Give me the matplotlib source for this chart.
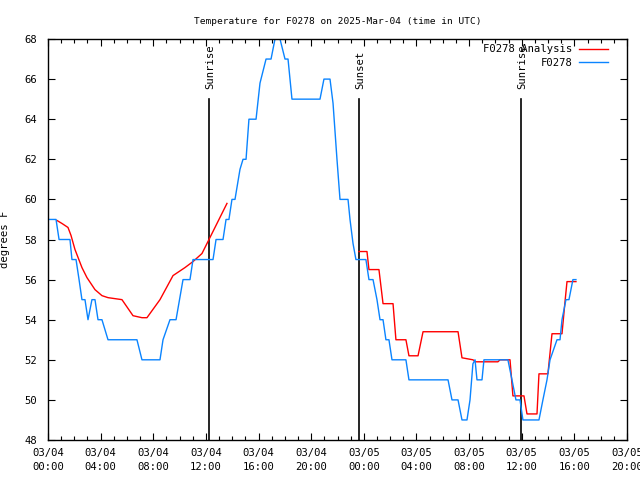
import numpy as np
import matplotlib
matplotlib.use("Agg")
import matplotlib.pyplot as plt
from matplotlib.ticker import MultipleLocator

plt.rcParams['font.family'] = ['DejaVu Sans Mono']
plt.rcParams['font.size'] = 7.6

# observations (hours since 03/04 00:00 UTC, degrees F)
obs_hours = [0.00, 0.61, 0.84, 1.67, 1.82, 2.13, 2.36, 2.58, 2.81, 3.04, 3.34, 3.57,
             3.80, 4.10, 4.56, 6.76, 7.14, 8.51, 8.74, 9.27, 9.73, 10.26, 10.79, 11.02,
             12.54, 12.77, 13.30, 13.53, 13.75, 13.98, 14.21, 14.59, 14.82, 15.05, 15.27,
             15.81, 16.11, 16.57, 16.95, 17.25, 17.63, 18.01, 18.24, 18.54, 20.67, 20.97,
             21.43, 21.66, 21.96, 22.19, 22.80, 22.95, 23.18, 23.40, 24.16, 24.39, 24.70,
             25.00, 25.23, 25.46, 25.68, 25.91, 26.14, 27.20, 27.43, 30.40, 30.70, 31.16,
             31.46, 31.84, 32.07, 32.29, 32.45, 32.60, 32.98, 33.13, 34.95, 35.26, 35.56,
             35.87, 36.09, 37.31, 37.61, 37.92, 38.15, 38.68, 38.91, 39.06, 39.36, 39.59,
             39.89, 40.12]
obs_temp = [59, 59, 58, 58, 57, 57, 56, 55, 55, 54, 55, 55,
            54, 54, 53, 53, 52, 52, 53, 54, 54, 56, 56, 57,
            57, 58, 58, 59, 59, 60, 60, 61.5, 62, 62, 64,
            64, 65.8, 67, 67, 68, 68, 67, 67, 65, 65, 66,
            66, 64.8, 62, 60, 60, 59, 57.8, 57, 57, 56, 56,
            55, 54, 54, 53, 53, 52, 52, 51, 51, 50, 50,
            49, 49, 50, 51.8, 52, 51, 51, 52, 52, 51, 50,
            50, 49, 49, 50, 51, 52, 53, 53, 54, 55, 55,
            56, 56]

# analysis (gap between the two runs)
ana_hours = [0.68, 1.06, 1.52, 1.75, 2.05, 2.58, 2.96, 3.57, 4.10, 4.56, 5.62, 6.46,
             7.14, 7.52, 8.51, 9.50, 10.41, 11.02, 11.70, 12.31, 13.60, np.nan,
             23.63, 24.24, 24.39, 25.15, 25.46, 26.22, 26.44, 27.20, 27.43, 28.12, 28.50,
             31.16, 31.46, 32.29, 32.52, 34.19, 34.35, 35.11, 35.33, 36.17, 36.40, 37.16,
             37.31, 37.99, 38.30, 39.06, 39.29, 39.44, 40.12]
ana_temp = [58.95, 58.8, 58.6, 58.2, 57.5, 56.6, 56.1, 55.5, 55.2, 55.1, 55.0, 54.2,
            54.1, 54.1, 55.0, 56.2, 56.6, 56.9, 57.3, 58.1, 59.8, np.nan,
            57.4, 57.4, 56.5, 56.5, 54.8, 54.8, 53.0, 53.0, 52.2, 52.2, 53.4,
            53.4, 52.1, 52.0, 51.9, 51.9, 52.0, 52.0, 50.2, 50.2, 49.3, 49.3,
            51.3, 51.3, 53.3, 53.3, 54.9, 55.9, 55.9]

events = ["Sunrise", "Sunset", "Sunrise"]
event_hours = [12.23, 23.63, 35.94]

tick_hours = list(range(0, 45, 4))
tick_labels = ["03/04\n00:00", "03/04\n04:00", "03/04\n08:00", "03/04\n12:00",
               "03/04\n16:00", "03/04\n20:00", "03/05\n00:00", "03/05\n04:00",
               "03/05\n08:00", "03/05\n12:00", "03/05\n16:00", "03/05\n20:00"]

fig = plt.figure(figsize=(6.4, 4.8), dpi=100)
ax = fig.add_axes([48 / 640, 40 / 480, 579 / 640, 401 / 480])

for name, h in zip(events, event_hours):
    ax.plot([h, h], [48, 65], color='black', lw=1.2)
    ax.text(h + 0.08, 65.5, name, rotation=90, ha='center', va='bottom')

ax.plot(ana_hours, ana_temp, color='#ff0000', lw=1.0, label='F0278 Analysis')
ax.plot(obs_hours, obs_temp, color='#0a84ff', lw=1.0, label='F0278')

ax.set_xlim(0, 44)
ax.set_ylim(48, 68)
ax.set_xticks(tick_hours)
ax.set_xticklabels(tick_labels, linespacing=1.45)
ax.xaxis.set_minor_locator(MultipleLocator(1))
ax.set_yticks(range(48, 69, 2))
ax.tick_params(direction='in', which='both', top=True, right=True)
ax.tick_params(axis='x', which='major', pad=6)
ax.tick_params(axis='y', which='major', pad=8)
ax.tick_params(which='major', length=5, width=0.8)
ax.tick_params(which='minor', length=3, width=0.8)
for s in ax.spines.values():
    s.set_linewidth(1.0)

ax.set_title("Temperature for F0278 on 2025-Mar-04 (time in UTC)", fontsize=6.8, pad=11)
ax.set_ylabel("degrees F", labelpad=10)

ax.legend(loc='upper right', frameon=False, markerfirst=False, handlelength=2.8,
          handletextpad=0.6, labelspacing=0.3, borderaxespad=0.0,
          bbox_to_anchor=(0.975, 0.997))

fig.savefig("out.png", dpi=100)
